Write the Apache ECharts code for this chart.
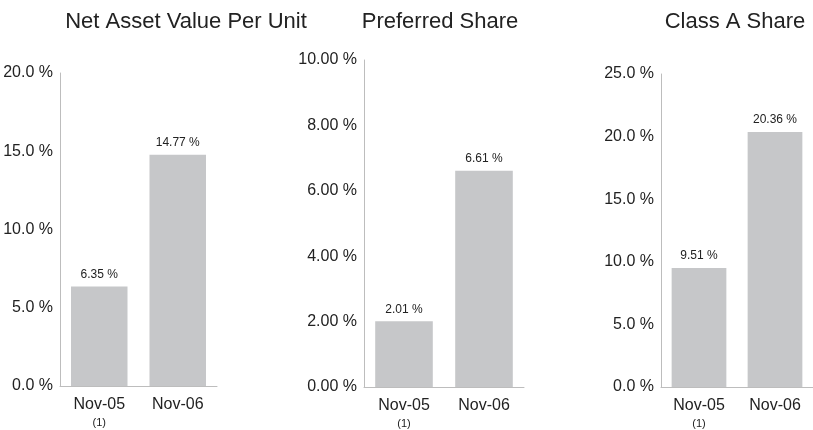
<!DOCTYPE html>
<html>
<head>
<meta charset="utf-8">
<script src="https://cdn.jsdelivr.net/npm/echarts@6/dist/echarts.min.js"></script>
<style>
html,body{margin:0;padding:0;background:#fff;}
#chart{width:813px;height:430px;}
</style>
</head>
<body>
<div id="chart"></div>
<script>
var categories = ['Nov-05', 'Nov-06'];
var footnotes = ['(1)', ''];
var titles = ['Net Asset Value Per Unit', 'Preferred Share', 'Class A Share'];
var navValues = [6.35, 14.77];
var preferredValues = [2.01, 6.61];
var classAValues = [9.51, 20.36];
var yMax = [20, 10, 25];
var yInterval = [5, 2, 5];
var yDecimals = [1, 2, 1];

var FONT = '"Liberation Sans", Arial, sans-serif';
var TXT = '#222';
var AXIS = '#bdbdbd';
var BAR = '#c6c7c9';

var grids = [
  {left: 60, top: 73, width: 157, height: 313},
  {left: 364, top: 60, width: 160, height: 327},
  {left: 661, top: 74, width: 159, height: 313}
];
var titleX = [181, 435, 730];
var seriesData = [navValues, preferredValues, classAValues];

var option = {
  backgroundColor: '#fff',
  animation: false,
  title: titles.map(function (t, i) {
    return {text: t, left: titleX[i], top: 6, textAlign: 'center',
      textStyle: {fontFamily: FONT, fontSize: 22, fontWeight: 'normal', color: TXT}};
  }),
  grid: grids,
  xAxis: grids.map(function (g, i) {
    return {
      type: 'category', gridIndex: i, data: categories,
      axisLine: {lineStyle: {color: AXIS, width: 1}},
      axisTick: {show: false},
      axisLabel: {
        interval: 0, margin: 11, color: TXT, fontFamily: FONT, fontSize: 16,
        formatter: function (v) {
          var f = footnotes[categories.indexOf(v)];
          return f ? v + '\n{s|' + f + '}' : v;
        },
        rich: {s: {fontSize: 11, fontFamily: FONT, color: TXT, lineHeight: 20}}
      }
    };
  }),
  yAxis: grids.map(function (g, i) {
    return {
      type: 'value', gridIndex: i, min: 0, max: yMax[i], interval: yInterval[i],
      axisLine: {show: true, lineStyle: {color: AXIS, width: 1}},
      axisTick: {show: false},
      splitLine: {show: false},
      axisLabel: {
        margin: 7, color: TXT, fontFamily: FONT, fontSize: 16,
        formatter: function (v) { return v.toFixed(yDecimals[i]) + ' %'; }
      }
    };
  }),
  series: seriesData.map(function (d, i) {
    return {
      type: 'bar', xAxisIndex: i, yAxisIndex: i, data: d, barWidth: '72%',
      itemStyle: {color: BAR},
      label: {show: true, position: 'top', distance: 6, color: TXT, fontFamily: FONT, fontSize: 12,
        formatter: function (p) { return p.value.toFixed(2) + ' %'; }}
    };
  })
};
var chart = echarts.init(document.getElementById('chart'), null, {renderer: 'canvas'});
chart.setOption(option);
</script>
</body>
</html>
